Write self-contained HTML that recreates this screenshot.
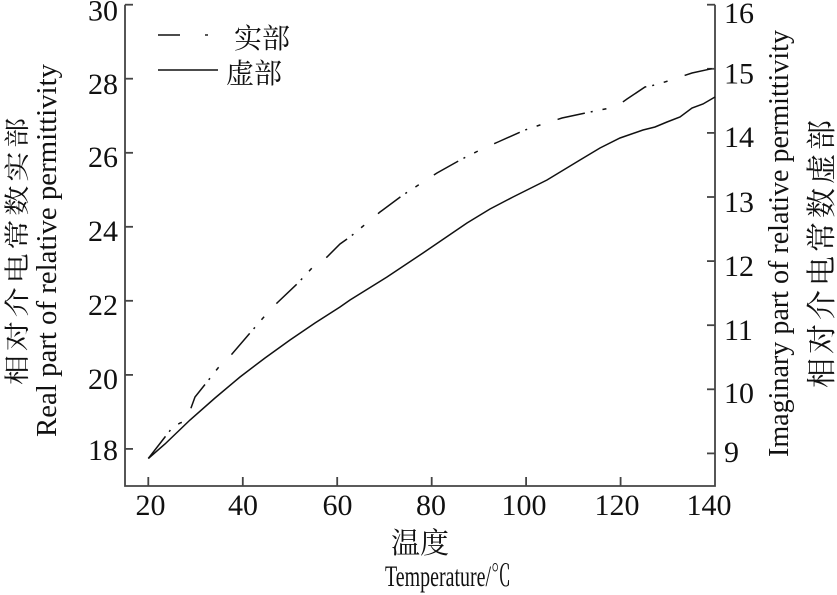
<!DOCTYPE html>
<html><head><meta charset="utf-8"><style>
html,body{margin:0;padding:0;background:#fff;}
svg{display:block;font-family:"Liberation Serif","Noto Serif CJK SC",serif;}
text{font-family:"Liberation Serif","Noto Serif CJK SC",serif;fill:#111;}
.cjk{font-family:"Liberation Serif","Noto Serif CJK SC","Noto Sans CJK SC",serif;}
</style></head><body>
<svg width="837" height="595" viewBox="0 0 837 595" xmlns="http://www.w3.org/2000/svg" font-family="'Liberation Serif', 'Noto Serif CJK SC', serif">
<rect width="837" height="595" fill="#fff"/>
<!-- axes -->
<g stroke="#444" stroke-width="1.8" fill="none">
<polyline points="125,4.7 125,486 715,486 715,4.7"/>
<line x1="125" y1="4.7" x2="133" y2="4.7"/>
<line x1="125" y1="78.7" x2="133" y2="78.7"/>
<line x1="125" y1="152.8" x2="133" y2="152.8"/>
<line x1="125" y1="226.8" x2="133" y2="226.8"/>
<line x1="125" y1="300.8" x2="133" y2="300.8"/>
<line x1="125" y1="374.9" x2="133" y2="374.9"/>
<line x1="125" y1="448.9" x2="133" y2="448.9"/>
<line x1="715" y1="4.7" x2="707" y2="4.7"/>
<line x1="715" y1="68.8" x2="707" y2="68.8"/>
<line x1="715" y1="132.9" x2="707" y2="132.9"/>
<line x1="715" y1="197" x2="707" y2="197"/>
<line x1="715" y1="261.1" x2="707" y2="261.1"/>
<line x1="715" y1="325.2" x2="707" y2="325.2"/>
<line x1="715" y1="389.3" x2="707" y2="389.3"/>
<line x1="715" y1="453.4" x2="707" y2="453.4"/>
<line x1="148.3" y1="486" x2="148.3" y2="477"/>
<line x1="242.8" y1="486" x2="242.8" y2="477"/>
<line x1="337.2" y1="486" x2="337.2" y2="477"/>
<line x1="431.7" y1="486" x2="431.7" y2="477"/>
<line x1="526.1" y1="486" x2="526.1" y2="477"/>
<line x1="620.6" y1="486" x2="620.6" y2="477"/>
</g>
<!-- left tick labels -->
<g font-size="30" text-anchor="end">
<text x="118" y="20.7">30</text>
<text x="118" y="94">28</text>
<text x="118" y="167">26</text>
<text x="118" y="241">24</text>
<text x="118" y="315">22</text>
<text x="118" y="389">20</text>
<text x="118" y="460">18</text>
</g>
<!-- right tick labels -->
<g font-size="30" text-anchor="start">
<text x="724" y="23">16</text>
<text x="724" y="83.5">15</text>
<text x="724" y="147">14</text>
<text x="724" y="212">13</text>
<text x="724" y="276">12</text>
<text x="724" y="340">11</text>
<text x="724" y="403">10</text>
<text x="724" y="462">9</text>
</g>
<!-- bottom tick labels -->
<g font-size="30" text-anchor="middle">
<text x="150.5" y="515">20</text>
<text x="243" y="515">40</text>
<text x="337.5" y="515">60</text>
<text x="431" y="515">80</text>
<text x="524" y="515">100</text>
<text x="617" y="515">120</text>
<text x="709" y="515">140</text>
</g>
<!-- x axis titles -->
<text class="cjk" x="420" y="553" font-size="29" text-anchor="middle">温度</text>
<text x="385" y="586" font-size="30" textLength="126" lengthAdjust="spacingAndGlyphs">Temperature/℃</text>
<!-- left y titles -->
<text class="cjk" transform="translate(26,385) rotate(-90) scale(1,0.85)" font-size="30" letter-spacing="3.9">相对介电常数实部</text>
<text transform="translate(56,437) rotate(-90)" font-size="28.5" textLength="373" lengthAdjust="spacingAndGlyphs">Real part of relative permittivity</text>
<!-- right y titles -->
<text transform="translate(788,457) rotate(-90)" font-size="28" textLength="427" lengthAdjust="spacingAndGlyphs">Imaginary part of relative permittivity</text>
<text class="cjk" transform="translate(832,388) rotate(-90)" font-size="30" letter-spacing="4">相对介电常数虚部</text>
<!-- legend -->
<line x1="158" y1="35" x2="180" y2="35" stroke="#111" stroke-width="1.4"/>
<line x1="205" y1="35" x2="208" y2="35" stroke="#111" stroke-width="1.4"/>
<text class="cjk" x="234" y="48" font-size="28">实部</text>
<line x1="158" y1="70" x2="218" y2="70" stroke="#111" stroke-width="1.4"/>
<text class="cjk" x="226" y="83" font-size="28">虚部</text>
<!-- real part: dash-dot -->
<polyline fill="none" stroke="#111" stroke-width="1.5" stroke-dasharray="28 6 2 10 4 18"
points="148.3,458.5 165,437 172,428 180,423 186,421 191,408 195,397 207,382 218,368 232,354 250,333 263,318 277,303 298,283 312,268 327,257 340,244 350,237 380,212 403,195 420,184 437,173 462,159 480,150 498,142 525,130 540,125 562,118 590,112 610,108 620,104 627,99 645,87 655,85 668,81 677,78 692,73 715,68"/>
<!-- imaginary part: solid -->
<polyline fill="none" stroke="#111" stroke-width="1.5"
points="148.3,458.5 165,444 190,420 215,398 240,377 265,358 290,340 315,323 340,307 350,300 387,277 423,253 445,238 467,223 490,209 513,197 547,180 580,160 600,148 620,138 643,130 655,127 667,122 680,117 692,108 703,104 715,97"/>
</svg>
</body></html>
